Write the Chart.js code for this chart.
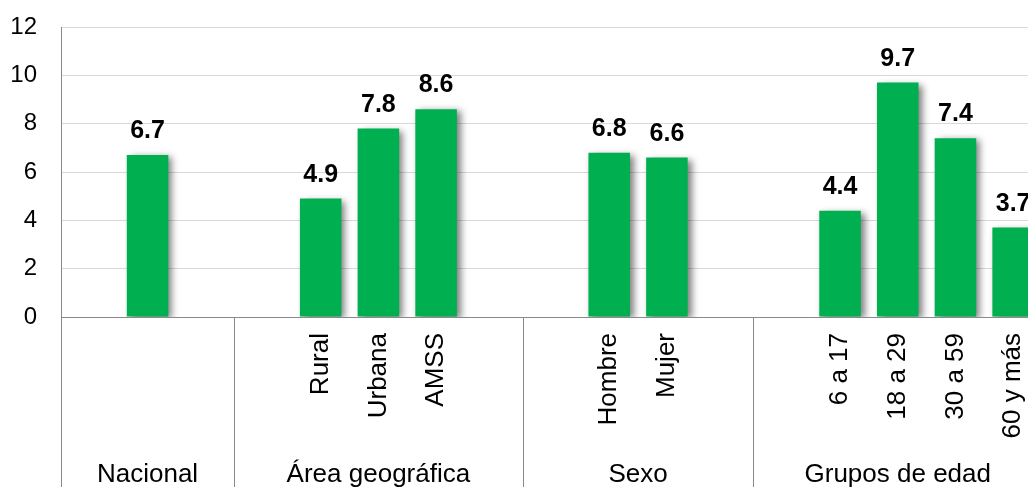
<!DOCTYPE html>
<html>
<head>
<meta charset="utf-8">
<script src="https://cdn.jsdelivr.net/npm/chart.js@4.4.1/dist/chart.umd.min.js"></script>
<style>
html,body{margin:0;padding:0;overflow:hidden;background:#fff;width:1028px;height:487px;}
#wrap{position:absolute;left:0;top:0;width:1060px;height:500px;}
</style>
</head>
<body>
<div id="wrap"><canvas id="c" width="1060" height="500"></canvas></div>
<script>
const groupNames = ['Nacional', 'Área geográfica', 'Sexo', 'Grupos de edad'];
const nacionalLabels = [''];
const areaLabels = ['Rural', 'Urbana', 'AMSS'];
const sexoLabels = ['Hombre', 'Mujer'];
const edadLabels = ['6 a 17', '18 a 29', '30 a 59', '60 y más'];
const nacionalValues = [6.7];
const areaValues = [4.9, 7.8, 8.6];
const sexoValues = [6.8, 6.6];
const edadValues = [4.4, 9.7, 7.4, 3.7];
const yTicks = [0, 2, 4, 6, 8, 10, 12];

const FONT = "'Liberation Sans', Arial, sans-serif";
const groupDefs = [
  [groupNames[0], nacionalLabels, nacionalValues],
  [groupNames[1], areaLabels, areaValues],
  [groupNames[2], sexoLabels, sexoValues],
  [groupNames[3], edadLabels, edadValues]
];
const labels = [], data = [], spans = [];
groupDefs.forEach((g, gi) => {
  const start = labels.length;
  labels.push(''); data.push(null);
  g[1].forEach((l, i) => { labels.push(l); data.push(g[2][i]); });
  if (gi < groupDefs.length - 1) { labels.push(''); data.push(null); }
  spans.push({ name: g[0], start: start, end: labels.length - 1 });
});

const shadowPlugin = {
  id: 'shadow',
  beforeDatasetsDraw(chart) {
    const ctx = chart.ctx;
    ctx.save();
    ctx.shadowColor = 'rgba(0,0,0,0.5)';
    ctx.shadowOffsetX = 4;
    ctx.shadowOffsetY = 2;
    ctx.shadowBlur = 7;
  },
  afterDatasetsDraw(chart) {
    chart.ctx.restore();
  }
};

const labelsPlugin = {
  id: 'valueLabels',
  afterDatasetsDraw(chart) {
    const ctx = chart.ctx;
    const meta = chart.getDatasetMeta(0);
    ctx.save();
    ctx.font = 'bold 25px ' + FONT;
    ctx.fillStyle = '#000';
    ctx.textAlign = 'center';
    ctx.textBaseline = 'alphabetic';
    meta.data.forEach((bar, i) => {
      const v = data[i];
      if (v === null || v === undefined) return;
      ctx.fillText(v.toFixed(1), bar.x, bar.y - 17);
    });
    ctx.restore();
  }
};

const groupPlugin = {
  id: 'groups',
  afterDraw(chart) {
    const ctx = chart.ctx;
    const x = chart.scales.x;
    const area = chart.chartArea;
    const half = (x.getPixelForValue(1) - x.getPixelForValue(0)) / 2;
    ctx.save();
    ctx.strokeStyle = '#898989';
    ctx.lineWidth = 1;
    spans.forEach(s => {
      const left = Math.round(x.getPixelForValue(s.start) - half) + 0.5;
      ctx.beginPath();
      ctx.moveTo(left, area.bottom);
      ctx.lineTo(left, chart.height);
      ctx.stroke();
    });
    ctx.font = '26px ' + FONT;
    ctx.fillStyle = '#000';
    ctx.textAlign = 'center';
    ctx.textBaseline = 'alphabetic';
    spans.forEach(s => {
      const l = x.getPixelForValue(s.start) - half;
      const r = x.getPixelForValue(s.end) + half;
      ctx.fillText(s.name, (l + r) / 2, 482);
    });
    ctx.restore();
  }
};

new Chart(document.getElementById('c'), {
  type: 'bar',
  data: {
    labels: labels,
    datasets: [{
      data: data,
      backgroundColor: '#00B050',
      borderWidth: 0,
      barPercentage: 0.72,
      categoryPercentage: 1.0
    }]
  },
  options: {
    responsive: false,
    animation: false,
    devicePixelRatio: 1,
    layout: { autoPadding: false, padding: { top: 27, right: 18, bottom: 0, left: 0 } },
    plugins: { legend: { display: false }, tooltip: { enabled: false } },
    scales: {
      x: {
        offset: true,
        grid: { display: false, drawTicks: false },
        border: { display: true, color: '#898989', width: 1 },
        ticks: {
          autoSkip: false,
          minRotation: 90,
          maxRotation: 90,
          padding: 16,
          color: '#000',
          font: { family: FONT, size: 26 }
        },
        afterFit(scale) {
          scale.height = 500 - 317;
          scale.paddingLeft = 0; scale.paddingRight = 0;
          scale.paddingTop = 0; scale.paddingBottom = 0;
        }
      },
      y: {
        min: 0,
        max: 12,
        afterBuildTicks(scale) { scale.ticks = yTicks.map(v => ({ value: v })); },
        grid: { color: '#d9d9d9', drawTicks: false, lineWidth: 1 },
        border: { display: true, color: '#898989', width: 1 },
        ticks: {
          padding: 24,
          color: '#000',
          font: { family: FONT, size: 24 }
        },
        afterFit(scale) {
          scale.width = 61;
          scale.paddingTop = 0; scale.paddingBottom = 0;
          scale.paddingLeft = 0; scale.paddingRight = 0;
        }
      }
    }
  },
  plugins: [shadowPlugin, labelsPlugin, groupPlugin]
});
</script>
</body>
</html>
